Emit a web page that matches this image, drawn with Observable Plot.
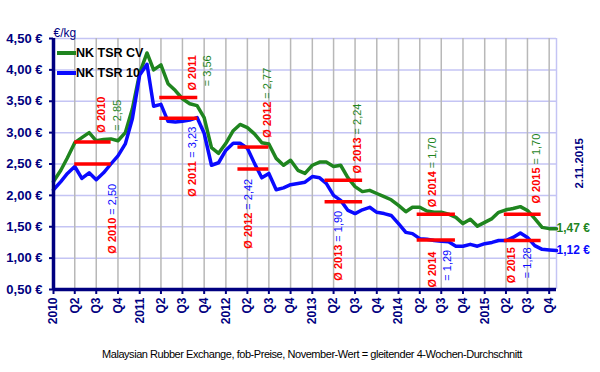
<!DOCTYPE html>
<html><head><meta charset="utf-8">
<script src="https://cdn.jsdelivr.net/npm/d3@7"></script>
<script src="https://cdn.jsdelivr.net/npm/@observablehq/plot@0.6"></script>
<style>
body{margin:0;background:#fff;}
#wrap{position:relative;width:600px;height:372px;font-family:"Liberation Sans",Arial,sans-serif;overflow:hidden;}
#wrap svg{display:block;}
.leg{position:absolute;font-weight:bold;font-size:12.5px;color:#000;line-height:16px;}
.sw{position:absolute;width:19px;height:4px;}
#cap{position:absolute;left:0;top:346px;width:600px;text-align:center;font-size:11px;line-height:16px;letter-spacing:-0.45px;color:#000;padding-left:24px;box-sizing:border-box;white-space:nowrap;}
</style></head><body><div id="wrap"></div>
<script>
// ---- data ----
const seriesNames = ["NK TSR CV", "NK TSR 10"];
const firstMonth = "2010-01-01";
const lastMonth = "2015-11-01";
const cvValues = [2.22,2.40,2.60,2.84,2.92,3.00,2.87,2.89,2.90,2.87,3.00,3.38,
3.95,4.27,4.00,4.08,3.78,3.67,3.54,3.46,3.43,3.24,2.76,2.67,
2.83,3.03,3.13,3.08,2.98,2.84,2.82,2.59,2.48,2.56,2.40,2.35,
2.48,2.53,2.53,2.46,2.48,2.28,2.14,2.06,2.08,2.03,1.98,1.93,
1.84,1.74,1.81,1.81,1.75,1.73,1.73,1.70,1.65,1.55,1.62,1.51,
1.57,1.63,1.73,1.77,1.79,1.82,1.76,1.63,1.49,1.47,1.47];
const t10Values = [2.09,2.22,2.35,2.46,2.27,2.36,2.25,2.36,2.50,2.63,2.82,3.22,
3.92,4.09,3.42,3.45,3.18,3.17,3.18,3.20,3.24,2.99,2.48,2.52,
2.72,2.83,2.83,2.75,2.51,2.28,2.35,2.09,2.12,2.17,2.19,2.21,
2.30,2.28,2.19,2.00,1.92,1.76,1.71,1.77,1.81,1.73,1.71,1.68,
1.55,1.41,1.39,1.31,1.30,1.28,1.27,1.26,1.19,1.19,1.22,1.19,
1.23,1.25,1.28,1.28,1.33,1.40,1.33,1.20,1.14,1.13,1.12];
const yTickValues = [0.5,1,1.5,2,2.5,3,3.5,4,4.5];
const annYears = [2010,2011,2012,2013,2014,2015];
const meanCV = [2.85,3.56,2.77,2.24,1.70,1.70];
const meanT10 = [2.50,3.23,2.42,1.90,1.29,1.28];
const meanStart = ["2010-04-01","2011-03-27","2012-02-21","2013-02-24","2014-03-21","2015-03-25"];
const meanEnd = ["2010-09-02","2011-09-04","2012-07-01","2013-08-02","2014-08-30","2015-08-28"];
// annotation anchors (data space): "Ø yyyy" part and, when on its own line, the "= value" part
const cvLabelDate = ["2010-07-25","2011-08-14","2012-06-27","2013-07-12","2014-05-24","2015-08-07"];
const cvLabelY = [3.00,3.67,2.92,2.35,1.81,1.87];
const cvValueDate = ["2010-09-28","2011-10-13",null,null,null,null];
const cvValueY = [3.03,3.74,null,null,null,null];
const t10LabelDate = ["2010-09-07","2011-08-14","2012-04-07","2013-04-22","2014-05-24","2015-04-23"];
const t10LabelY = [1.07,1.98,1.15,0.64,0.53,0.60];
const t10ValueDate = [null,null,null,null,"2014-07-27","2015-06-30"];
const t10ValueY = [null,null,null,null,0.64,0.68];
const dateLabel = "2.11.2015";
const unitLabel = "€/kg";
const caption = "Malaysian Rubber Exchange, fob-Preise, November-Wert = gleitender 4-Wochen-Durchschnitt";

// ---- styles ----
const GREEN = "#1f851f", BLUE = "#0a0aff", RED = "#ff0000", NAVY = "#000080";
const FONT = "Liberation Sans, Arial, sans-serif";

// ---- build tables ----
const D = s => new Date(s + "T00:00:00Z");
const months = d3.utcMonth.range(D(firstMonth), d3.utcMonth.offset(D(lastMonth), 1));
const rows = [];
months.forEach((m, i) => {
  rows.push({date: m, value: cvValues[i], series: seriesNames[0]});
  rows.push({date: m, value: t10Values[i], series: seriesNames[1]});
});
const quarterTicks = d3.utcMonth.every(3).range(D(firstMonth), D(lastMonth));
const fmtNum = v => v.toFixed(2).replace(".", ",");
const means = annYears.flatMap((y, i) => [
  {start: D(meanStart[i]), end: D(meanEnd[i]), value: meanCV[i]},
  {start: D(meanStart[i]), end: D(meanEnd[i]), value: meanT10[i]}
]);
const ann = annYears.flatMap((y, i) => [
  {year: y, mean: meanCV[i], color: GREEN, ld: D(cvLabelDate[i]), ly: cvLabelY[i],
   vd: cvValueDate[i] ? D(cvValueDate[i]) : null, vy: cvValueY[i]},
  {year: y, mean: meanT10[i], color: BLUE, ld: D(t10LabelDate[i]), ly: t10LabelY[i],
   vd: t10ValueDate[i] ? D(t10ValueDate[i]) : null, vy: t10ValueY[i]}
]);
const lastIdx = months.length - 1;
const endLabels = [
  {date: months[lastIdx], value: cvValues[lastIdx], color: GREEN},
  {date: months[lastIdx], value: t10Values[lastIdx], color: BLUE}
];

const textBase = {rotate: -90, textAnchor: "start", fontSize: 11};

const plot = Plot.plot({
  width: 600, height: 340,
  marginTop: 38, marginLeft: 53, marginRight: 44, marginBottom: 51,
  style: {fontFamily: FONT, background: "#fff", overflow: "visible"},
  x: {type: "utc", domain: [D(firstMonth), D(lastMonth)]},
  y: {domain: [0.5, 4.5]},
  marks: [
    Plot.ruleY(yTickValues, {stroke: "#c4c4f4", strokeWidth: 1.5}),
    Plot.ruleX(quarterTicks.slice(1), {stroke: "#b8b8b8", strokeWidth: 1.5}),
    Plot.ruleX([D(lastMonth)], {stroke: "#c4c4f4", strokeWidth: 1.5}),
    Plot.line(rows, {x: "date", y: "value", z: "series",
      stroke: d => d.series === seriesNames[0] ? GREEN : BLUE, strokeWidth: 3.5,
      strokeLinejoin: "round", strokeLinecap: "round"}),
    Plot.ruleY(means, {x1: "start", x2: "end", y: "value", stroke: RED, strokeWidth: 3.5}),
    Plot.text(ann, {...textBase, x: "ld", y: "ly", text: d => "Ø " + d.year, fill: RED, fontWeight: "bold"}),
    Plot.text(ann.filter(d => d.vd), {...textBase, x: "vd", y: "vy", text: d => "= " + fmtNum(d.mean), fill: d => d.color}),
    Plot.text(ann.filter(d => !d.vd), {...textBase, x: "ld", y: "ly", dy: -39, text: d => "= " + fmtNum(d.mean), fill: d => d.color}),
    Plot.text(endLabels, {x: "date", y: "value", text: d => fmtNum(d.value) + " €", fill: d => d.color,
      textAnchor: "start", dx: 0, fontWeight: "bold", fontSize: 12}),
    Plot.text([dateLabel], {frameAnchor: "right", rotate: -90, dx: 23, dy: -26, fill: NAVY,
      fontWeight: "bold", fontSize: 11.5}),
    Plot.text([unitLabel], {frameAnchor: "top-left", dy: -10, dx: 0, fill: NAVY, fontSize: 12}),
    Plot.axisY(yTickValues, {tickSize: 4, tickPadding: 7, color: NAVY, strokeWidth: 2,
      fontSize: 13, fontWeight: "bold", tickFormat: d => fmtNum(d) + " €", label: null}),
    Plot.axisX(quarterTicks, {tickSize: 5, tickPadding: 3, color: NAVY, strokeWidth: 2,
      fontSize: 12, fontWeight: "bold", tickRotate: -90, label: null,
      tickFormat: d => d.getUTCMonth() === 0 ? String(d.getUTCFullYear()) : "Q" + (d.getUTCMonth() / 3 + 1)}),
    Plot.ruleX([D(firstMonth)], {stroke: NAVY, strokeWidth: 3.5}),
    Plot.ruleY([0.5], {stroke: NAVY, strokeWidth: 3.5})
  ]
});

const wrap = document.getElementById("wrap");
wrap.appendChild(plot);

// caption below the svg
const cap = document.createElement("div");
cap.id = "cap"; cap.textContent = caption;
wrap.appendChild(cap);

// legend overlay (top-left inside the frame)
const legendItems = [{name: seriesNames[0], color: GREEN}, {name: seriesNames[1], color: BLUE}];
legendItems.forEach((it, i) => {
  const sw = document.createElement("div");
  sw.className = "sw"; sw.style.background = it.color;
  sw.style.left = "57px"; sw.style.top = (51 + i * 20) + "px";
  wrap.appendChild(sw);
  const lb = document.createElement("div");
  lb.className = "leg"; lb.textContent = it.name;
  lb.style.left = "76px"; lb.style.top = (45 + i * 20) + "px";
  wrap.appendChild(lb);
});
</script></body></html>
